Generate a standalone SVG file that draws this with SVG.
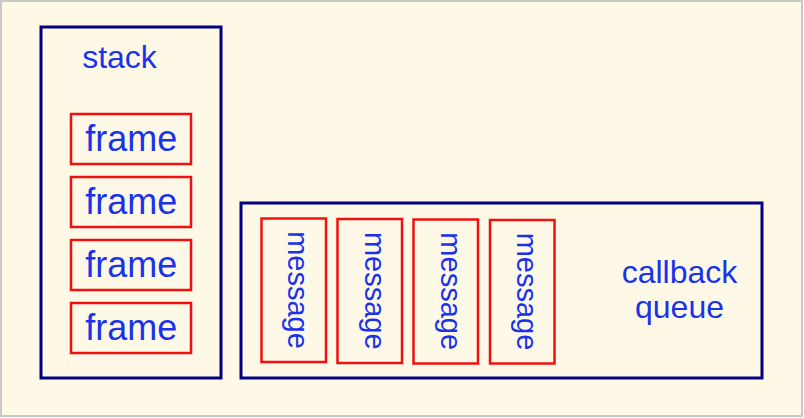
<svg xmlns="http://www.w3.org/2000/svg" width="804" height="418" viewBox="0 0 804 418">
<style>
.bg{fill:#fef9e7;stroke:#c8c8c8;stroke-width:2}
.outer{fill:none;stroke:#000080;stroke-width:3}
.item{fill:none;stroke:#f01010;stroke-width:2.5}
.t{font-family:"Liberation Sans",Arial,sans-serif;fill:#1a32ec;text-anchor:middle}
.big{font-size:36px}
.mid{font-size:32px}
.msg{font-size:29px}
</style>
<rect class="bg" x="1" y="1" width="801" height="415"/>
<g id="stack">
<rect class="outer" x="41" y="27" width="180" height="351"/>
<text class="t mid" x="119.5" y="68">stack</text>
</g>
<g id="frame1"><rect class="item" x="71" y="114" width="120" height="50"/><text class="t big" x="131.3" y="151">frame</text></g>
<g id="frame2"><rect class="item" x="71" y="177" width="120" height="50"/><text class="t big" x="131.3" y="214">frame</text></g>
<g id="frame3"><rect class="item" x="71" y="240" width="120" height="50"/><text class="t big" x="131.3" y="277">frame</text></g>
<g id="frame4"><rect class="item" x="71" y="303" width="120" height="50"/><text class="t big" x="131.3" y="339.5">frame</text></g>
<g id="queue">
<rect class="outer" x="241" y="203" width="521" height="175"/>
<text class="t mid" x="679.5" y="282.5">callback</text>
<text class="t mid" x="679.5" y="317.5">queue</text>
</g>
<g id="message1"><rect class="item" x="261.5" y="218.5" width="64.5" height="143.5"/><text class="t msg" x="288.3" y="290" transform="rotate(90 288.3 290)">message</text></g>
<g id="message2"><rect class="item" x="337.5" y="219" width="64.5" height="144"/><text class="t msg" x="365" y="290.8" transform="rotate(90 365 290.8)">message</text></g>
<g id="message3"><rect class="item" x="413.5" y="219.5" width="64.5" height="144"/><text class="t msg" x="441" y="291.2" transform="rotate(90 441 291.2)">message</text></g>
<g id="message4"><rect class="item" x="490" y="220" width="64.5" height="143.5"/><text class="t msg" x="517.3" y="291.5" transform="rotate(90 517.3 291.5)">message</text></g>
<g id="connectors"></g>
</svg>
